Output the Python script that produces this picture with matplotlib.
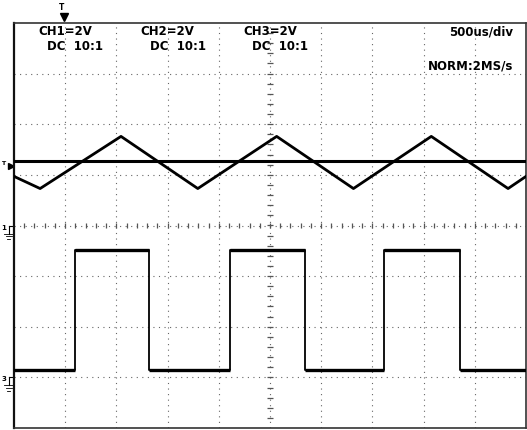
import numpy as np
import matplotlib
matplotlib.use("Agg")
import matplotlib.pyplot as plt

# time axis in divisions (500us/div), voltage in divisions (2V/div)
tri_t = [0, 0.51, 2.09, 3.59, 5.13, 6.63, 8.15, 9.65, 10]
tri_v = [0.97, 0.73, 1.76, 0.73, 1.76, 0.73, 1.76, 0.73, 0.97]

flat_t = [0, 10]
flat_v = [1.27, 1.27]

sq_t = [0, 1.19, 2.63, 4.21, 5.69, 7.23, 8.71, 10]
sq_v = [-2.85, -0.49, -2.85, -0.49, -2.85, -0.49, -2.85, -2.85]

ch_labels = ["CH1=2V", "CH2=2V", "CH3=2V"]
coupling = ["DC  10:1", "DC  10:1", "DC  10:1"]
ch_label_x = [1.0, 3.0, 5.0]
timebase = "500us/div"
acq_mode = "NORM:2MS/s"

ground_levels = [0.0, -3.0]
ground_names = ["1", "3"]
trig_level = 1.18
trig_pos = 0.97

W, H = 527, 430
fig = plt.figure(figsize=(W / 100, H / 100), dpi=100)
ax = fig.add_axes([14 / W, 2 / H, 512 / W, 405 / H])
ax.set_xlim(0, 10)
ax.set_ylim(-4, 4)
ax.set_xticks([])
ax.set_yticks([])
for s in ax.spines.values():
    s.set_color("#333333")
    s.set_linewidth(1.2)
ax.spines["left"].set_linewidth(1.6)
ax.spines["left"].set_color("#111111")

# graticule
grid_kw = dict(color="#666666", linewidth=0.8, linestyle=(0, (1, 4)), zorder=1)
for gx in range(1, 10):
    ax.axvline(gx, **grid_kw)
for gy in range(-3, 4):
    ax.axhline(gy, **grid_kw)

# minor ticks on centre lines
mt = np.arange(0.2, 10, 0.2)
ax.vlines(mt, -0.05, 0.05, color="#555555", linewidth=0.9, zorder=1)
mt_y = np.arange(-3.8, 4, 0.2)
ax.hlines(mt_y, 4.95, 5.05, color="#555555", linewidth=0.9, zorder=1)

# traces
ax.plot(flat_t, flat_v, color="black", linewidth=2.2, zorder=3)
ax.plot(tri_t, tri_v, color="black", linewidth=2.0, zorder=3)
ax.plot(sq_t, sq_v, color="black", linewidth=1.3, drawstyle="steps-post", zorder=3)
ax.hlines(sq_v[:-1], sq_t[:-1], sq_t[1:], color="black", linewidth=2.4, zorder=3)

# header text
txt_kw = dict(fontsize=8.5, fontweight="bold", family="DejaVu Sans", color="black")
for lab, cp, cx in zip(ch_labels, coupling, ch_label_x):
    ax.text(cx, 3.83, lab, ha="center", va="center", **txt_kw)
    ax.text(cx + 0.2, 3.53, cp, ha="center", va="center", **txt_kw)
ax.text(9.75, 3.83, timebase, ha="right", va="center", **txt_kw)
ax.text(9.75, 3.16, acq_mode, ha="right", va="center", **txt_kw)

# trigger position marker (top)
ax.text(trig_pos - 0.04, 4.3, "T", fontsize=5.5, fontweight="bold", ha="center",
        va="center", clip_on=False)
ax.plot([trig_pos], [4.12], marker="v", color="black", markersize=5.5, clip_on=False)

# trigger level marker (left)
ax.plot([-0.06], [trig_level], marker=">", color="black", markersize=5, clip_on=False)
ax.text(-0.22, trig_level + 0.05, "T", fontsize=4.5, fontweight="bold", ha="center",
        va="center", clip_on=False)

# ground markers (left)
for lvl, name in zip(ground_levels, ground_names):
    ax.plot([-0.1, 0], [lvl, lvl], color="black", linewidth=0.8, clip_on=False)
    ax.plot([-0.1, -0.1], [lvl, lvl - 0.16], color="black", linewidth=0.8, clip_on=False)
    for k, hw in enumerate([0.09, 0.06, 0.03]):
        yy = lvl - 0.16 - 0.05 * k
        ax.plot([-0.1 - hw, -0.1 + hw], [yy, yy], color="black", linewidth=0.6,
                clip_on=False)
    ax.text(-0.2, lvl - 0.04, name, fontsize=5, fontweight="bold", ha="center",
            va="center", clip_on=False)

fig.savefig("out.png", dpi=100, facecolor="white")
